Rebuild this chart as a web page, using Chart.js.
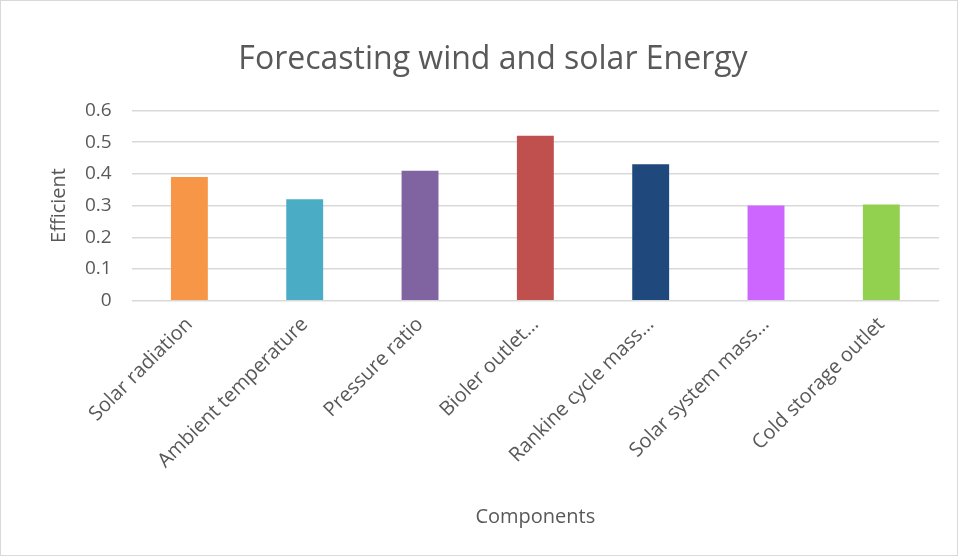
<!DOCTYPE html>
<html>
<head>
<meta charset="utf-8">
<script src="https://cdn.jsdelivr.net/npm/chart.js@4"></script>
<style>
  html, body { margin: 0; padding: 0; background: #fff; }
  #wrap { position: relative; width: 956px; height: 554px; border: 1px solid #d9d9d9; }
</style>
</head>
<body>
<div id="wrap"><canvas id="myChart"></canvas></div>
<script>
const CHART = document.getElementById("myChart");
const components = ['Solar radiation', 'Ambient temperature', 'Pressure ratio', 'Bioler outlet…',
  'Rankine cycle mass…', 'Solar system mass…', 'Cold storage outlet'];
const efficient = [0.39, 0.32, 0.41, 0.52, 0.43, 0.30, 0.303];
const barColors = ['#f79646', '#4bacc6', '#8064a2', '#c0504d', '#1f497d', '#cc66ff', '#92d050'];
const yTicks = [0, 0.1, 0.2, 0.3, 0.4, 0.5, 0.6];

Chart.defaults.font.family = "'Open Sans', sans-serif";
Chart.defaults.color = '#595959';

let barchart = new Chart(CHART, {
  type: 'bar',
  data: {
    labels: components,
    datasets: [{
      label: 'Efficient',
      data: efficient,
      backgroundColor: barColors,
      categoryPercentage: 1,
      barPercentage: 0.32
    }]
  },
  options: {
    responsive: true,
    maintainAspectRatio: false,
    animation: false,
    layout: { padding: { top: 32, right: 18, left: 46, bottom: 22 } },
    plugins: {
      legend: { display: false },
      tooltip: { enabled: false },
      title: {
        display: true,
        text: 'Forecasting wind and solar Energy',
        font: { size: 32, weight: 'normal' },
        color: '#595959',
        padding: { top: 8, bottom: 31 }
      }
    },
    scales: {
      x: {
        grid: { display: false },
        border: { display: false },
        ticks: { font: { size: 20 }, color: '#595959', minRotation: 45, maxRotation: 45, padding: 4 },
        title: { display: true, text: 'Components', font: { size: 20 }, color: '#595959', padding: { top: 28 } }
      },
      y: {
        min: 0,
        max: 0.6,
        afterBuildTicks: function(axis) { axis.ticks = yTicks.map(v => ({ value: v })); },
        grid: { color: '#d9d9d9', lineWidth: 1.5, drawTicks: false },
        border: { display: false },
        ticks: { font: { size: 19 }, color: '#595959', padding: 20 },
        title: { display: true, text: 'Efficient', font: { size: 20 }, color: '#595959', padding: { top: 0, bottom: -6 } }
      }
    }
  }
});
</script>
</body>
</html>
